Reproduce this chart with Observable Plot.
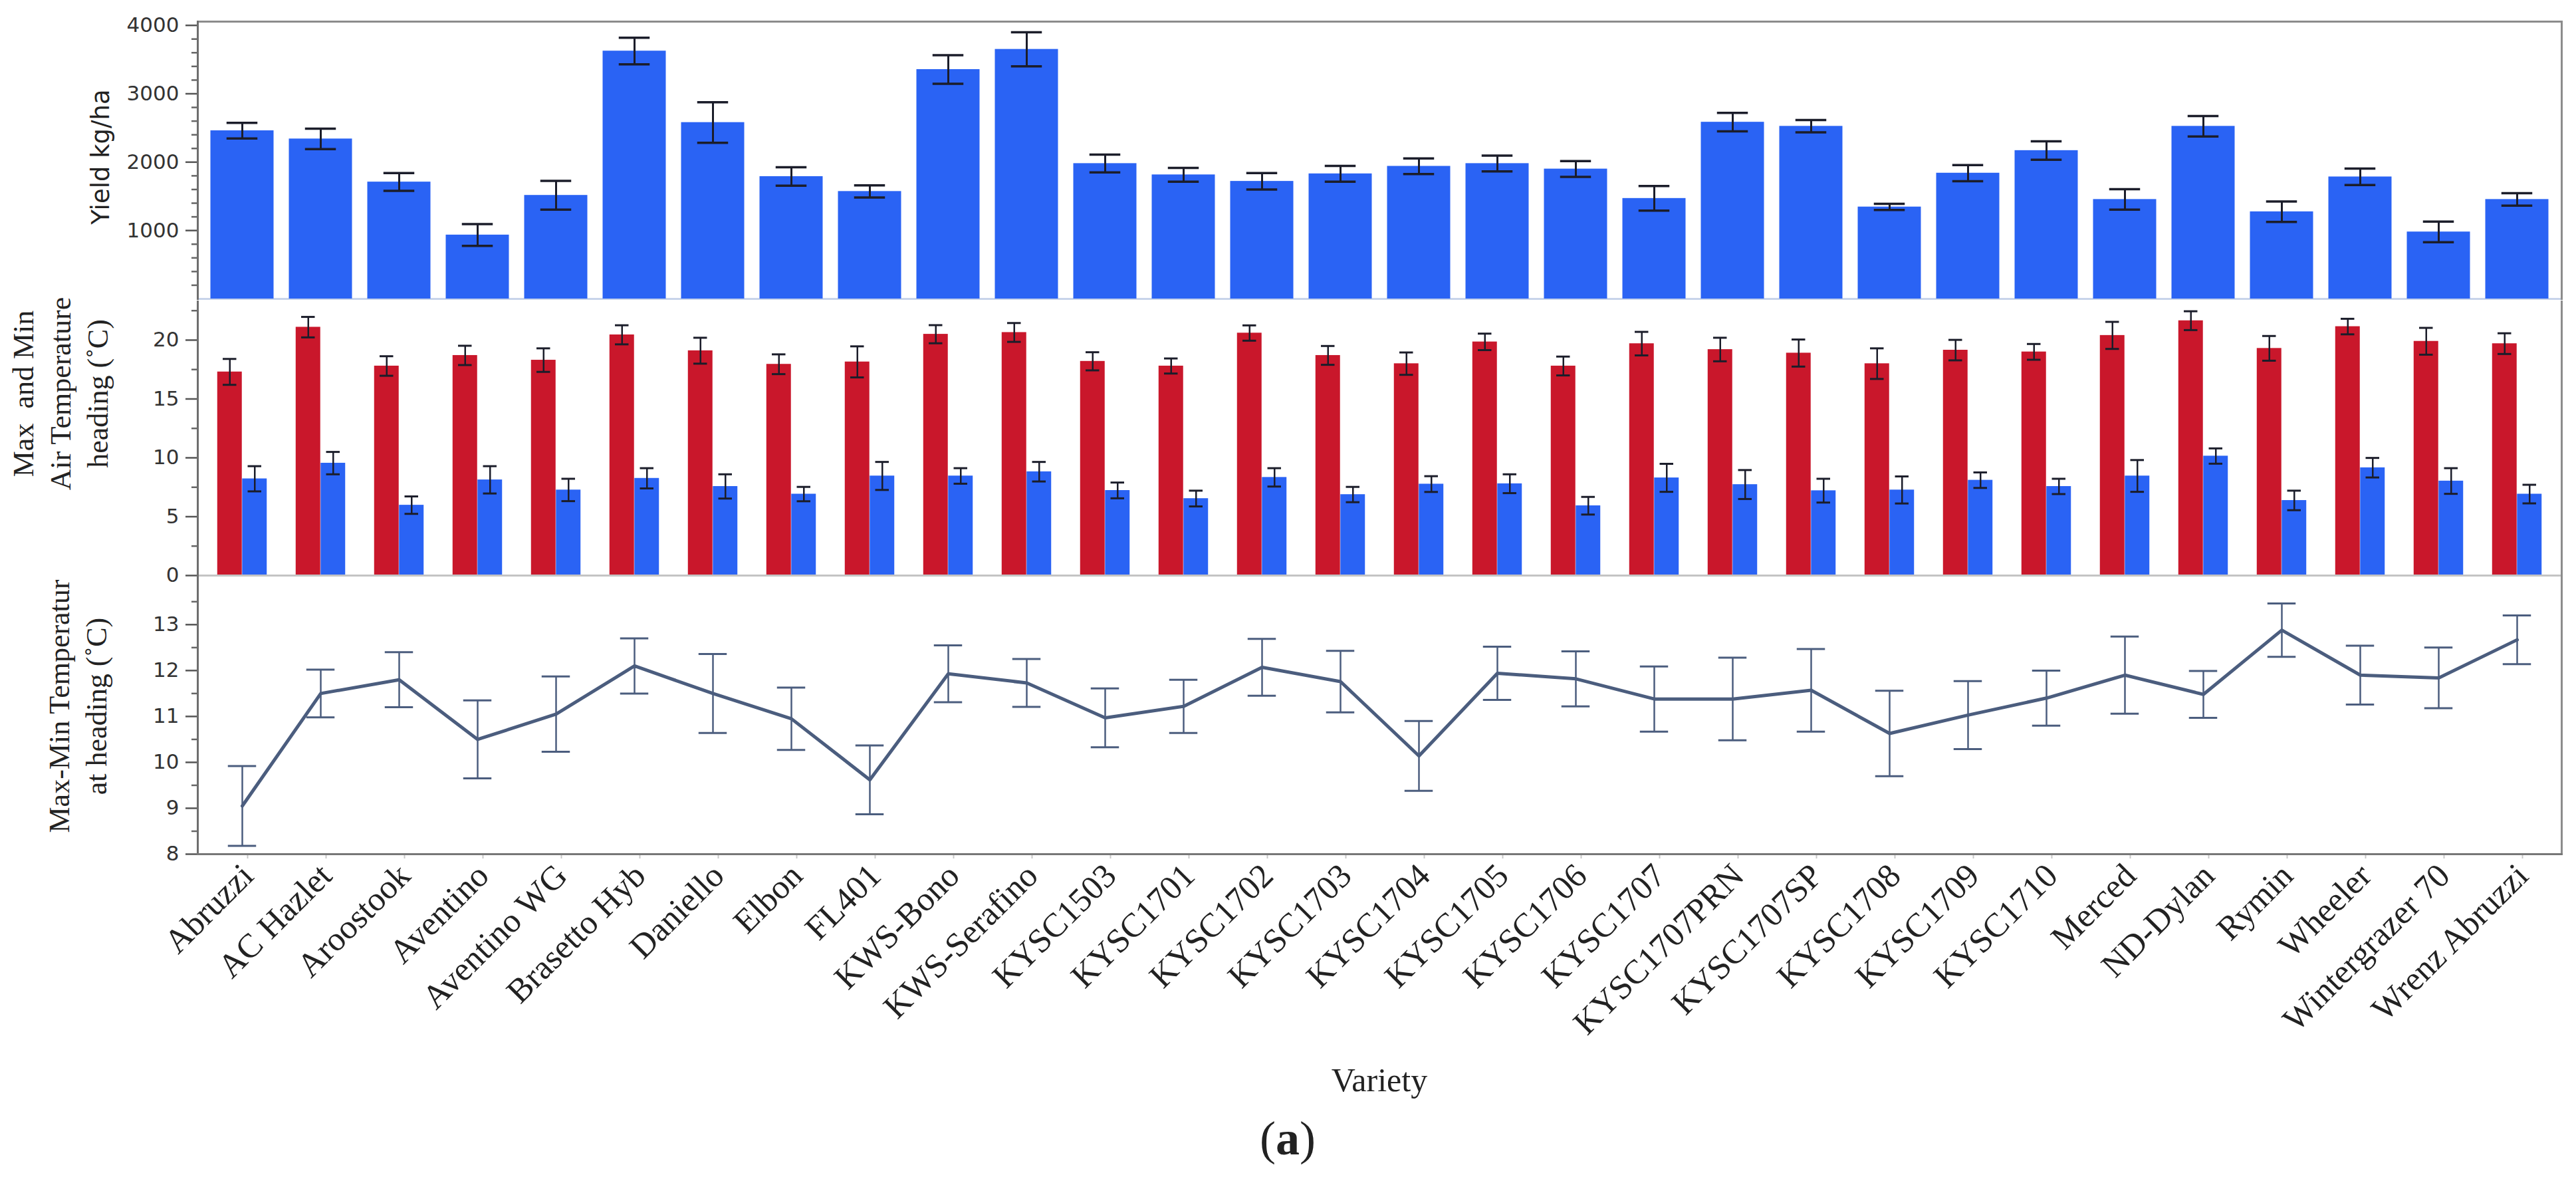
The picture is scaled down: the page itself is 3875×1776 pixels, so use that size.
<!DOCTYPE html>
<html>
<head>
<meta charset="utf-8">
<script src="https://cdn.jsdelivr.net/npm/d3@7"></script>
<script src="https://cdn.jsdelivr.net/npm/@observablehq/plot@0.6"></script>
<style>
  html, body { margin: 0; padding: 0; background: #fff; }
  #wrap { position: relative; width: 3875px; height: 1776px; background: #fff; overflow: hidden; }
  .panel { position: absolute; left: 0; }
  .ytitle { position: absolute; transform: translate(-50%, -50%) rotate(-90deg); white-space: pre; text-align: center;
            font-family: "Liberation Serif", "Times New Roman", serif; font-size: 44px; line-height: 56px; color: #222; }
  .lbl { position: absolute; transform: translate(-50%, -50%); white-space: pre; font-family: "Liberation Serif", "Times New Roman", serif; color: #222; }
</style>
</head>
<body>
<div id="wrap">
  <div class="panel" id="p1" style="top:0px"></div>
  <div class="panel" id="p2" style="top:452px"></div>
  <div class="panel" id="p3" style="top:885px"></div>
  <div class="ytitle" style="left:152px; top:236px; font-family:'DejaVu Sans', Verdana, sans-serif; font-size:37px;">Yield kg/ha</div>
  <div class="ytitle" style="left:92px; top:592px;">Max  and Min
Air Temperature
heading (˚C)</div>
  <div class="ytitle" style="left:118px; top:1062px;">Max-Min Temperatur
at heading (˚C)</div>
  <div class="lbl" style="left:2075px; top:1624px; font-size:50px;">Variety</div>
  <div class="lbl" style="left:1937px; top:1712px; font-size:72px;">(<b>a</b>)</div>
</div>
<script>
// ---- data ----
const varieties = ["Abruzzi","AC Hazlet","Aroostook","Aventino","Aventino WG","Brasetto Hyb","Daniello","Elbon","FL401",
  "KWS-Bono","KWS-Serafino","KYSC1503","KYSC1701","KYSC1702","KYSC1703","KYSC1704","KYSC1705","KYSC1706","KYSC1707",
  "KYSC1707PRN","KYSC1707SP","KYSC1708","KYSC1709","KYSC1710","Merced","ND-Dylan","Rymin","Wheeler","Wintergrazer 70","Wrenz Abruzzi"];
const yieldMean = [2460,2340,1710,935,1515,3625,2580,1790,1572,3355,3650,1980,1815,1720,1830,1940,1980,1900,1470,2585,2525,1345,1840,2170,1455,2525,1275,1785,980,1455];
const yieldErr  = [115,150,130,160,210,195,297,135,88,210,250,130,100,120,115,115,115,115,180,135,90,45,118,135,150,150,150,120,150,90];
const tmaxMean = [17.3,21.1,17.8,18.7,18.3,20.45,19.1,17.95,18.15,20.5,20.65,18.2,17.8,20.6,18.7,18.0,19.85,17.8,19.7,19.2,18.9,18.0,19.15,19.0,20.4,21.65,19.3,21.15,19.9,19.7];
const tmaxErr  = [1.1,0.87,0.83,0.82,1.0,0.81,1.1,0.84,1.32,0.77,0.8,0.77,0.64,0.65,0.8,0.95,0.7,0.8,1.0,1.0,1.15,1.3,0.87,0.67,1.15,0.8,1.05,0.66,1.14,0.88];
const tminMean = [8.22,9.55,5.98,8.13,7.27,8.26,7.57,6.92,8.46,8.46,8.82,7.23,6.54,8.34,6.88,7.77,7.8,5.93,8.3,7.73,7.21,7.27,8.1,7.57,8.46,10.15,6.38,9.16,8.03,6.92];
const tminErr  = [1.07,0.95,0.74,1.16,0.95,0.86,1.03,0.61,1.19,0.66,0.83,0.67,0.67,0.78,0.65,0.67,0.8,0.75,1.19,1.23,1.01,1.15,0.66,0.65,1.35,0.65,0.83,0.83,1.09,0.79];
const diffMean = [9.05,11.5,11.8,10.5,11.05,12.1,11.5,10.95,9.62,11.93,11.73,10.97,11.22,12.07,11.76,10.14,11.94,11.82,11.38,11.38,11.57,10.63,11.03,11.4,11.9,11.48,12.88,11.9,11.84,12.67];
const diffErr  = [0.87,0.52,0.6,0.85,0.82,0.6,0.86,0.68,0.75,0.62,0.52,0.64,0.58,0.62,0.67,0.76,0.58,0.6,0.71,0.9,0.9,0.93,0.74,0.6,0.84,0.51,0.58,0.64,0.66,0.53];

const yieldTicks = [1000, 2000, 3000, 4000];
const yieldMinor = [200,400,600,800,1200,1400,1600,1800,2200,2400,2600,2800,3200,3400,3600,3800];
const tempTicks = [0, 5, 10, 15, 20];
const tempMinor = [2.5, 7.5, 12.5, 17.5, 22.5];
const diffTicks = [8, 9, 10, 11, 12, 13];
const diffMinor = [8.5, 9.5, 10.5, 11.5, 12.5, 13.5];

// ---- tables ----
const yieldData = varieties.map((v, i) => ({variety: v, mean: yieldMean[i], lo: yieldMean[i] - yieldErr[i], hi: yieldMean[i] + yieldErr[i]}));
const maxData = varieties.map((v, i) => ({variety: v, mean: tmaxMean[i], lo: tmaxMean[i] - tmaxErr[i], hi: tmaxMean[i] + tmaxErr[i]}));
const minData = varieties.map((v, i) => ({variety: v, mean: tminMean[i], lo: tminMean[i] - tminErr[i], hi: tminMean[i] + tminErr[i]}));
const diffData = varieties.map((v, i) => ({variety: v, mean: diffMean[i], lo: diffMean[i] - diffErr[i], hi: diffMean[i] + diffErr[i]}));

// ---- style ----
const W = 3875, ML = 297, MR = 22;
const BLUE = "#2a63f4", RED = "#c9172b", ERR = "#1b1d2a", LINE = "#4b5d7e", FRAME = "#8c8c8c";
const tickFont = "DejaVu Sans, Verdana, sans-serif";
const bw = (W - ML - MR) / varieties.length; // band width
const xOpt = {domain: varieties, padding: 0};
const intFmt = d3.format("d");

function yAxes(major, minor) {
  return [
    Plot.axisY(major, {tickSize: 18, tickPadding: 10, tickFormat: intFmt, fontSize: 31, fontFamily: tickFont, stroke: "#555", strokeWidth: 2.5, fill: "#333", label: null}),
    Plot.axisY(minor, {tickSize: 9, tickFormat: () => "", stroke: "#666", strokeWidth: 2.5, label: null})
  ];
}

// panel 1 : yield
const capHalf1 = 23.5;
const p1 = Plot.plot({
  width: W, height: 452, marginLeft: ML, marginRight: MR, marginTop: 32, marginBottom: 3,
  x: {...xOpt, axis: null},
  y: {domain: [0, 4055]},
  marks: [
    Plot.ruleY([0], {stroke: "#c8d4ea", strokeWidth: 3}),
    Plot.barY(yieldData, {x: "variety", y: "mean", fill: BLUE, insetLeft: 11.5, insetRight: 11.5}),
    Plot.ruleX(yieldData, {x: "variety", y1: "lo", y2: "hi", stroke: ERR, strokeWidth: 3}),
    Plot.tickY(yieldData, {x: "variety", y: "hi", stroke: ERR, strokeWidth: 3.5, insetLeft: bw/2 - capHalf1, insetRight: bw/2 - capHalf1}),
    Plot.tickY(yieldData, {x: "variety", y: "lo", stroke: ERR, strokeWidth: 3.5, insetLeft: bw/2 - capHalf1, insetRight: bw/2 - capHalf1}),
    ...yAxes(yieldTicks, yieldMinor),
    Plot.frame({anchor: "top", stroke: FRAME, strokeWidth: 3}),
    Plot.frame({anchor: "left", stroke: "#6e6e6e", strokeWidth: 3}),
    Plot.frame({anchor: "right", stroke: FRAME, strokeWidth: 3})
  ]
});
document.getElementById("p1").appendChild(p1);

// panel 2 : max & min air temperature
const sub = 37.5, capHalf2 = 10.5;
const redCap = {insetLeft: bw/2 + sub/2 - capHalf2 - sub, insetRight: bw/2 + sub/2 - capHalf2};
const blueCap = {insetLeft: bw/2 + sub/2 - capHalf2, insetRight: bw/2 - sub/2 - capHalf2};
const p2 = Plot.plot({
  width: W, height: 433, marginLeft: ML, marginRight: MR, marginTop: 0, marginBottom: 0,
  x: {...xOpt, axis: null},
  y: {domain: [-1.13, 23.33]},
  marks: [
    Plot.barY(maxData, {x: "variety", y: "mean", fill: RED, insetLeft: bw/2 - sub, insetRight: bw/2}),
    Plot.barY(minData, {x: "variety", y: "mean", fill: BLUE, insetLeft: bw/2, insetRight: bw/2 - sub}),
    Plot.ruleY([0], {stroke: "#c4c4c4", strokeWidth: 3}),
    Plot.ruleX(maxData, {x: "variety", y1: "lo", y2: "hi", stroke: ERR, strokeWidth: 2.5, dx: -sub/2}),
    Plot.tickY(maxData, {x: "variety", y: "hi", stroke: ERR, strokeWidth: 3, ...redCap}),
    Plot.tickY(maxData, {x: "variety", y: "lo", stroke: ERR, strokeWidth: 3, ...redCap}),
    Plot.ruleX(minData, {x: "variety", y1: "lo", y2: "hi", stroke: ERR, strokeWidth: 2.5, dx: sub/2}),
    Plot.tickY(minData, {x: "variety", y: "hi", stroke: ERR, strokeWidth: 3, ...blueCap}),
    Plot.tickY(minData, {x: "variety", y: "lo", stroke: ERR, strokeWidth: 3, ...blueCap}),
    ...yAxes(tempTicks, tempMinor),
    Plot.frame({anchor: "left", stroke: "#6e6e6e", strokeWidth: 3}),
    Plot.frame({anchor: "right", stroke: FRAME, strokeWidth: 3})
  ]
});
document.getElementById("p2").appendChild(p2);

// panel 3 : max - min temperature
const capHalf3 = 21.5;
const p3 = Plot.plot({
  width: W, height: 891, marginLeft: ML, marginRight: MR, marginTop: 0, marginBottom: 492,
  x: xOpt,
  y: {domain: [8, 13.78]},
  marks: [
    Plot.ruleX(diffData, {x: "variety", y1: "lo", y2: "hi", stroke: LINE, strokeWidth: 2.5}),
    Plot.tickY(diffData, {x: "variety", y: "hi", stroke: LINE, strokeWidth: 3, insetLeft: bw/2 - capHalf3, insetRight: bw/2 - capHalf3}),
    Plot.tickY(diffData, {x: "variety", y: "lo", stroke: LINE, strokeWidth: 3, insetLeft: bw/2 - capHalf3, insetRight: bw/2 - capHalf3}),
    Plot.line(diffData, {x: "variety", y: "mean", stroke: LINE, strokeWidth: 5}),
    ...yAxes(diffTicks, diffMinor),
    Plot.axisX({tickRotate: -45, tickSize: 7, tickPadding: 17, dx: 8, fontSize: 51, fontFamily: "Liberation Serif, Times New Roman, serif", fill: "#222", stroke: "#c8c8c8", strokeWidth: 2, label: null}),
    Plot.frame({anchor: "left", stroke: "#6e6e6e", strokeWidth: 3}),
    Plot.frame({anchor: "right", stroke: FRAME, strokeWidth: 3}),
    Plot.frame({anchor: "bottom", stroke: "#777", strokeWidth: 3})
  ]
});
document.getElementById("p3").appendChild(p3);
</script>
</body>
</html>
